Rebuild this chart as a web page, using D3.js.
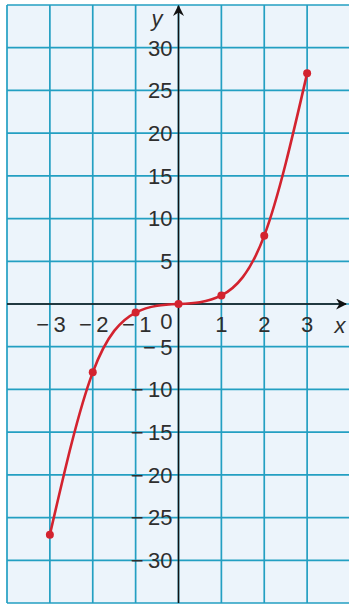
<!DOCTYPE html>
<html>
<head>
<meta charset="utf-8">
<script src="https://cdn.jsdelivr.net/npm/d3@7"></script>
<style>
  html, body { margin: 0; padding: 0; background: #fff; }
  svg { display: block; }
  .tick-label { font-family: "Liberation Sans", Arial, sans-serif; font-size: 22px; fill: #2e2e2e; }
  .axis-name { font-family: "Liberation Sans", Arial, sans-serif; font-size: 22px; font-style: italic; fill: #2e2e2e; }
</style>
</head>
<body>
<svg id="chart" width="349" height="608"></svg>
<script>
// y = x^3 sample points
const xValues = [-3, -2, -1, 0, 1, 2, 3];
const yValues = [-27, -8, -1, 0, 1, 8, 27];
const xTicks = [-3, -2, -1, 1, 2, 3];
const yTicks = [-30, -25, -20, -15, -10, -5, 5, 10, 15, 20, 25, 30];
const xGrid = [-4, -3, -2, -1, 0, 1, 2, 3, 4];
const yGrid = [-35, -30, -25, -20, -15, -10, -5, 0, 5, 10, 15, 20, 25, 30, 35];

const svg = d3.select("#chart");

const x = d3.scaleLinear().domain([-4, 4]).range([7, 350]);
const y = d3.scaleLinear().domain([-35, 35]).range([603, 5]);

const gridColor = "#239fc2";
const red = "#d3232f";
const minus = (v) => (v < 0 ? "\u2212\u2009" + Math.abs(v) : String(v));

// paper
svg.append("rect")
  .attr("x", x(-4)).attr("y", y(35))
  .attr("width", x(4) - x(-4)).attr("height", y(-35) - y(35))
  .attr("fill", "#ecf4fb");

// grid
svg.append("g")
  .selectAll("line")
  .data(xGrid)
  .join("line")
  .attr("x1", (d) => x(d)).attr("x2", (d) => x(d))
  .attr("y1", y(35)).attr("y2", y(-35))
  .attr("stroke", gridColor)
  .attr("stroke-width", 1.7);

svg.append("g")
  .selectAll("line")
  .data(yGrid)
  .join("line")
  .attr("x1", x(-4)).attr("x2", x(4))
  .attr("y1", (d) => y(d)).attr("y2", (d) => y(d))
  .attr("stroke", gridColor)
  .attr("stroke-width", 1.7);

// axes with arrows
const defs = svg.append("defs");
defs.append("marker")
  .attr("id", "arrow")
  .attr("viewBox", "0 0 10 10")
  .attr("refX", 9).attr("refY", 5)
  .attr("markerWidth", 11).attr("markerHeight", 11)
  .attr("markerUnits", "userSpaceOnUse")
  .attr("orient", "auto")
  .append("path")
  .attr("d", "M0,0L10,5L0,10L3,5Z")
  .attr("fill", "#111");

svg.append("line")
  .attr("x1", x(-4)).attr("x2", 346)
  .attr("y1", y(0)).attr("y2", y(0))
  .attr("stroke", "#111").attr("stroke-width", 1.5)
  .attr("marker-end", "url(#arrow)");

svg.append("line")
  .attr("x1", x(0)).attr("x2", x(0))
  .attr("y1", y(-35)).attr("y2", 6)
  .attr("stroke", "#111").attr("stroke-width", 1.5)
  .attr("marker-end", "url(#arrow)");

// tick labels
svg.append("g")
  .selectAll("text")
  .data(yTicks)
  .join("text")
  .attr("class", "tick-label")
  .attr("x", x(0) - 6)
  .attr("y", (d) => y(d))
  .attr("dy", "0.36em")
  .attr("text-anchor", "end")
  .text(minus);

svg.append("g")
  .selectAll("text")
  .data(xTicks)
  .join("text")
  .attr("class", "tick-label")
  .attr("x", (d) => x(d) + (d < 0 ? 1 : 0))
  .attr("y", y(0) + 20)
  .attr("dy", "0.36em")
  .attr("text-anchor", "middle")
  .text(minus);

svg.append("text")
  .attr("class", "tick-label")
  .attr("x", x(0) - 6)
  .attr("y", y(0) + 17)
  .attr("dy", "0.36em")
  .attr("text-anchor", "end")
  .text("0");

svg.append("text")
  .attr("class", "axis-name")
  .attr("x", 157).attr("y", 18)
  .attr("dy", "0.36em")
  .attr("text-anchor", "middle")
  .text("y");

svg.append("text")
  .attr("class", "axis-name")
  .attr("x", 340).attr("y", y(0) + 21)
  .attr("dy", "0.36em")
  .attr("text-anchor", "middle")
  .text("x");

// curve
const points = xValues.map((d, i) => [d, yValues[i]]);
const line = d3.line()
  .x((d) => x(d[0]))
  .y((d) => y(d[1]))
  .curve(d3.curveNatural);

svg.append("path")
  .datum(points)
  .attr("d", line)
  .attr("fill", "none")
  .attr("stroke", red)
  .attr("stroke-width", 2.6);

svg.append("g")
  .selectAll("circle")
  .data(points)
  .join("circle")
  .attr("cx", (d) => x(d[0]))
  .attr("cy", (d) => y(d[1]))
  .attr("r", 4)
  .attr("fill", red);
</script>
</body>
</html>
